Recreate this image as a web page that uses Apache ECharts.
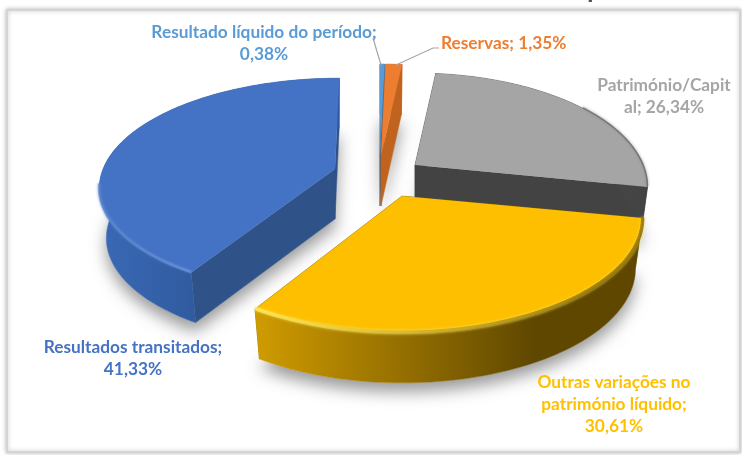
<!DOCTYPE html>
<html>
<head>
<meta charset="utf-8">
<style>html,body{margin:0;padding:0;background:#fff}#c{width:742px;height:455px}</style>
<script src="https://cdn.jsdelivr.net/npm/echarts@6/dist/echarts.min.js"></script>
</head>
<body>
<div id="c"></div>
<script>
const chartTitle = 'Gráfico nº 1: Estrutura do Património Líquido';
const categories = ['Resultado líquido do período', 'Reservas', 'Património/Capital', 'Outras variações no património líquido', 'Resultados transitados'];
const shares = [0.38, 1.35, 26.34, 30.61, 41.33];
const labelPrefixes = ['Resultado líquido do período;\n', 'Reservas; ', 'Património/Capit\nal; ', 'Outras variações no\npatrimónio líquido;\n', 'Resultados transitados;\n'];

const FONT = 'Lato, "Open Sans", sans-serif';
const DEPTH = 50, SHRINK = 0.97;
const looks = [
  {apex:[380,156], A:232, B:110, K:0.196, skew:0, top:'#5b9bd5', cut:'#41719c', wall:['#41719c','#41719c'], rim:null, label:[264,43,'center'], text:'#5b9bd5'},
  {apex:[381,156], A:232, B:110, K:0.196, skew:0, top:'#ed7d31', cut:'#c0631f', wall:['#c0631f','#c0631f'], rim:null, label:[441,43,'left'], text:'#ed7d31'},
  {apex:[415,165], A:228, B:110, K:0.196, skew:0, top:'#a5a5a5', cut:'#434343', wall:['#555555','#434343'], rim:['#7d7d7d','#6a6a6a'], rimRange:[55,110], rimWidth:1.5, label:[664,96,'center'], text:'#a5a5a5'},
  {apex:[402,196], A:236, B:110, K:0.196, skew:0, top:'#fdbf00', cut:'#7f6000', wall:['#cf9b00','#5f4700'], wallX:[257,535], rim:['#ffe95a','#8f6c00'], rimX:[257,590], rimRange:[85,285], rimWidth:3.5, opacity:0.8, label:[614,404,'center'], text:'#ffc000'},
  {apex:[335,169], A:232, B:105, K:0.156, skew:5, top:'#4472c4', cut:'#2f5288', wall:['#3b69b6','#305ba0'], wallX:[97,195], rim:['#5a84cf','#6a94dd'], rimX:[97,190], rimRange:[85,262], rimWidth:3, opacity:0.6, label:[133,358,'center'], text:'#4472c4'}
];
const leaders = {
  0: [[373,38],[381,65]],
  1: [[396,65],[433,48],[439,48]]
};

function project(look, deg, lower) {
  const t = deg * Math.PI / 180, u = Math.sin(t), v = -Math.cos(t);
  const s = 1 / (1 - look.K * v);
  const xs = lower ? SHRINK : 1;
  return [look.apex[0] + (look.A * u * s - look.skew * v * s) * xs, look.apex[1] + (lower ? DEPTH : 0) + look.B * v * s];
}
function arc(look, a0, a1, lower) {
  const pts = [], n = Math.max(2, Math.ceil((a1 - a0) / 1.5));
  for (let i = 0; i <= n; i++) pts.push(project(look, a0 + (a1 - a0) * i / n, lower));
  return pts;
}
function apexAt(look, lower) {
  return [look.apex[0], look.apex[1] + (lower ? DEPTH : 0)];
}
function hGrad(x0, x1, c0, c1) {
  return new echarts.graphic.LinearGradient(x0, 0, x1, 0, [{offset:0,color:c0},{offset:1,color:c1}], true);
}

const total = shares.reduce((a, b) => a + b, 0);
let run = 0;
const starts = shares.map(v => { const a = run; run += v; return a / total * 360; });

function renderItem(params, api) {
  const i = params.dataIndex, value = api.value(0);
  const look = looks[i];
  const a0 = starts[i], a1 = a0 + value / total * 360;
  const topArc = arc(look, a0, a1, false), lowArc = arc(look, a0, a1, true);
  const ta = apexAt(look, false), la = apexAt(look, true);
  const children = [];
  // soft floor shadow
  children.push({type:'polygon', shape:{points:[la].concat(lowArc)}, style:{fill:'#ffffff', shadowBlur:16, shadowOffsetY:9, shadowColor:'rgba(0,0,0,0.4)'}});
  // cut faces
  const face = (p, q, r, s) => ({type:'polygon', shape:{points:[p,q,r,s]}, style:{fill:look.cut, stroke:look.cut, lineWidth:0.5}});
  children.push(face(ta, topArc[0], lowArc[0], la));
  children.push(face(ta, topArc[topArc.length-1], lowArc[lowArc.length-1], la));
  // outer wall
  const wx = look.wallX || [Math.min.apply(null, topArc.map(p=>p[0])), Math.max.apply(null, topArc.map(p=>p[0]))];
  const wallFill = hGrad(wx[0], wx[1], look.wall[0], look.wall[1]);
  children.push({type:'polygon', shape:{points:topArc.concat(lowArc.slice().reverse())}, style:{fill:wallFill, stroke:wallFill, lineWidth:0.5}});
  // top surface
  children.push({type:'polygon', shape:{points:[ta].concat(topArc)}, style:{fill:look.top}});
  // bevel on the rim
  if (look.rim) {
    const rx = look.rimX || wx;
    const from = Math.max(a0, look.rimRange[0]), to = Math.min(a1, look.rimRange[1]);
    if (to > from) {
      const front = arc(look, from, to, false);
      const inner = front.map(p => [p[0], p[1] - 0.5]);
      children.push({type:'polyline', shape:{points:inner}, style:{fill:'none', stroke:hGrad(rx[0], rx[1], look.rim[0], look.rim[1]), lineWidth:look.rimWidth, opacity:look.opacity || 0.8, shadowBlur:3, shadowColor:look.rim[0]}});
    }
  }
  // leader
  if (leaders[i]) children.push({type:'polyline', shape:{points:leaders[i]}, style:{fill:'none', stroke:'#a6a6a6', lineWidth:1.2}});
  // label
  const txt = labelPrefixes[i] + value.toFixed(2).replace('.', ',') + '%';
  children.push({type:'text', style:{text:txt, x:look.label[0], y:look.label[1], fill:look.text, font:'bold 17.3px ' + FONT, lineHeight:22, textAlign:look.label[2], textVerticalAlign:'middle', align:look.label[2], verticalAlign:'middle'}});
  return {type:'group', children};
}

const chart = echarts.init(document.getElementById('c'), null, {renderer:'canvas'});
chart.setOption({
  backgroundColor:'#ffffff',
  animation:false,
  title:{text:chartTitle, left:385, textAlign:'center', top:-23, padding:0, textStyle:{color:'#44546a', fontFamily:FONT, fontWeight:'bold', fontSize:26}},
  graphic:[{type:'rect', z:-1, shape:{x:7,y:10,width:733,height:442}, style:{fill:'#ffffff', stroke:'#d4d4d4', lineWidth:2, shadowBlur:4, shadowColor:'rgba(0,0,0,0.25)'}}],
  series:[{
    type:'custom', coordinateSystem:'none', clip:false,
    data:shares.map((v,i)=>({name:categories[i], value:[v]})),
    encode:{value:0},
    renderItem
  }]
});
</script>
</body>
</html>
